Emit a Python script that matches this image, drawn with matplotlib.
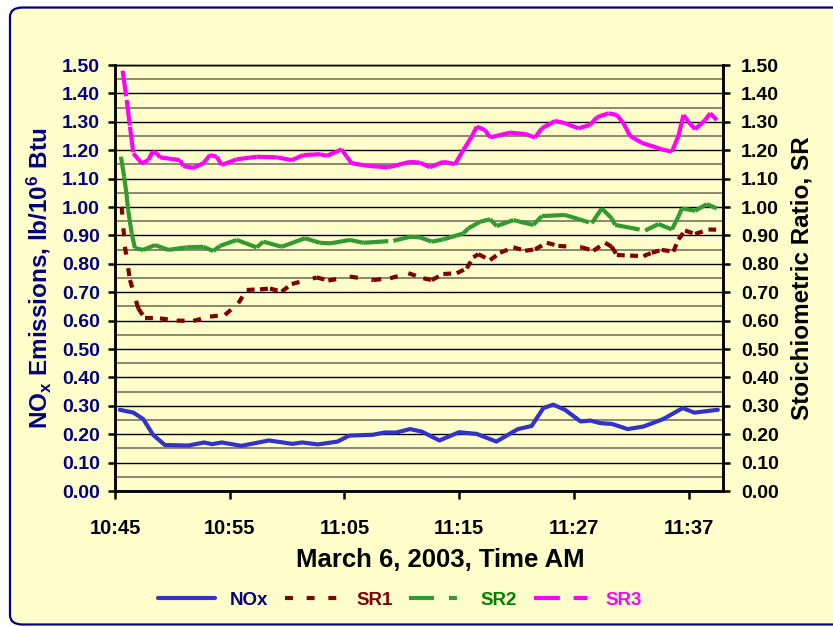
import numpy as np
import matplotlib
matplotlib.use("Agg")
import matplotlib.pyplot as plt
from matplotlib.collections import LineCollection
from matplotlib.lines import Line2D
from matplotlib.patches import FancyBboxPatch

# sample position along the (category) time axis, ticks every 10 samples
tick_pos = [0, 10, 20, 30, 40, 50]
tick_labels = ["10:45", "10:55", "11:05", "11:15", "11:27", "11:37"]

nox_t = [0.42, 1.61, 2.47, 3.32, 4.35, 6.40, 7.77, 8.46, 9.31, 11.02, 13.41, 15.47, 16.32, 17.68,
         19.40, 20.42, 22.47, 23.50, 24.52, 25.72, 26.75, 28.28, 29.99, 31.53, 33.24, 35.12, 36.32,
         37.34, 38.20, 39.22, 40.59, 41.45, 42.30, 43.33, 44.69, 46.06, 47.77, 49.48, 50.50, 52.55]
nox = [0.286, 0.276, 0.253, 0.198, 0.162, 0.160, 0.171, 0.165, 0.171, 0.159, 0.178, 0.166, 0.171, 0.164,
       0.174, 0.195, 0.198, 0.206, 0.206, 0.218, 0.209, 0.178, 0.207, 0.201, 0.174, 0.218, 0.229,
       0.292, 0.304, 0.286, 0.245, 0.248, 0.239, 0.236, 0.218, 0.227, 0.253, 0.292, 0.276, 0.286]

sr1_t = [0.58, 0.87, 1.31, 2.03, 2.62, 3.92, 5.38, 6.83, 8.28, 9.59, 10.75, 11.48, 12.64, 13.51,
         14.53, 15.41, 17.59, 18.60, 20.49, 22.52, 23.98, 25.57, 26.88, 27.61, 28.62, 29.79, 30.66,
         31.24, 31.67, 32.69, 33.57, 34.73, 35.75, 36.62, 37.64, 38.65, 40.69, 41.70, 42.72, 43.30,
         43.74, 44.90, 46.06, 46.79, 47.66, 48.67, 49.11, 49.69, 50.57, 51.73, 52.40]
sr1 = [1.001, 0.860, 0.743, 0.643, 0.608, 0.608, 0.600, 0.599, 0.614, 0.620, 0.661, 0.708, 0.710, 0.713,
       0.702, 0.729, 0.752, 0.741, 0.755, 0.743, 0.749, 0.767, 0.749, 0.743, 0.764, 0.767, 0.784,
       0.823, 0.834, 0.813, 0.839, 0.858, 0.846, 0.851, 0.874, 0.863, 0.858, 0.846, 0.874, 0.860,
       0.831, 0.829, 0.827, 0.839, 0.849, 0.843, 0.886, 0.917, 0.905, 0.921, 0.920]

sr2_t = [0.52, 0.80, 1.00, 1.15, 1.46, 1.74, 2.47, 3.49, 4.65, 6.25, 7.70, 8.57, 9.15, 10.61, 12.35,
         12.93, 14.53, 16.56, 17.87, 18.75, 20.49, 21.65, 24.26, 25.72, 26.59, 27.61, 28.62, 30.37,
         30.80, 31.82, 32.69, 33.28, 34.73, 35.31, 36.47, 37.20, 39.23, 41.56, 42.43, 43.30, 43.59,
         46.21, 47.37, 48.54, 49.11, 49.41, 50.57, 51.59, 52.46]
sr2 = [1.177, 1.107, 1.048, 0.989, 0.907, 0.855, 0.849, 0.866, 0.849, 0.858, 0.860, 0.845, 0.863, 0.884,
       0.858, 0.878, 0.860, 0.890, 0.874, 0.872, 0.884, 0.874, 0.881, 0.895, 0.893, 0.878, 0.886,
       0.907, 0.925, 0.948, 0.957, 0.933, 0.954, 0.948, 0.937, 0.968, 0.972, 0.943, 0.995, 0.960,
       0.937, 0.917, 0.940, 0.921, 0.966, 0.995, 0.987, 1.010, 0.995]

sr3_t = [0.67, 1.02, 1.31, 1.60, 2.33, 2.90, 3.29, 3.64, 3.92, 5.67, 5.95, 6.83, 7.70, 8.28, 8.87,
         9.30, 10.61, 12.35, 14.10, 15.41, 16.42, 17.87, 18.46, 19.76, 20.20, 20.64, 22.23, 23.83,
         25.72, 26.59, 27.46, 28.62, 29.64, 30.37, 31.10, 31.53, 32.26, 32.69, 34.44, 35.75, 36.62,
         37.20, 38.36, 39.23, 40.39, 41.41, 42.00, 43.01, 43.74, 44.32, 44.90, 45.92, 47.66, 48.54,
         49.11, 49.55, 49.98, 50.57, 51.44, 51.88, 52.46]
sr3 = [1.48, 1.377, 1.283, 1.189, 1.154, 1.165, 1.195, 1.189, 1.175, 1.165, 1.144, 1.138, 1.154, 1.183,
       1.177, 1.148, 1.168, 1.177, 1.175, 1.165, 1.183, 1.186, 1.180, 1.203, 1.177, 1.154, 1.144,
       1.140, 1.159, 1.156, 1.140, 1.159, 1.151, 1.201, 1.248, 1.283, 1.271, 1.245, 1.262, 1.257,
       1.245, 1.277, 1.303, 1.295, 1.277, 1.289, 1.316, 1.330, 1.324, 1.295, 1.250, 1.226, 1.203,
       1.195, 1.250, 1.324, 1.300, 1.274, 1.306, 1.330, 1.306]

BG = "#FFFFCC"
NAVY = "#000080"
plt.rcParams["font.family"] = ["Liberation Sans", "DejaVu Sans"]
plt.rcParams["font.weight"] = "bold"
plt.rcParams["mathtext.fontset"] = "custom"
plt.rcParams["mathtext.rm"] = "Liberation Sans:bold"
plt.rcParams["mathtext.it"] = "Liberation Sans:bold"
plt.rcParams["mathtext.bf"] = "Liberation Sans:bold"

fig = plt.figure(figsize=(8.33, 6.27), dpi=100, facecolor="white")
fig.patches.append(FancyBboxPatch((0.012, 0.004), 1.05, 0.984, transform=fig.transFigure,
                                  boxstyle="round,pad=0,rounding_size=0.015", fc=BG, ec=NAVY,
                                  lw=1.6, zorder=-10))

ax = fig.add_axes([0.138, 0.2169, 0.730, 0.6794])
ax.set_facecolor("none")
ax2 = ax.twinx()

ax.set_xlim(0, 53.0)
for a in (ax, ax2):
    a.set_ylim(0, 1.5)
    a.set_yticks(np.arange(0, 1.51, 0.1))
    a.set_yticks(np.arange(0.05, 1.5, 0.1), minor=True)
    a.set_yticklabels([f"{v:.2f}" for v in np.arange(0, 1.51, 0.1)], fontweight="bold")
    for sp in a.spines.values():
        sp.set_linewidth(1.8)
    a.spines["top"].set_linewidth(1.0)
ax.grid(True, which="major", axis="y", color="black", lw=1.0)
ax.grid(True, which="minor", axis="y", color="#80806a", lw=1.3)
ax.tick_params(axis="y", which="minor", length=0)
ax2.tick_params(axis="y", which="minor", length=0)
ax.tick_params(axis="y", which="major", direction="out", length=5, width=1.8, pad=6,
               labelsize=14, labelcolor=NAVY)
ax2.tick_params(axis="y", which="major", direction="out", length=5, width=1.8, pad=8,
                labelsize=14, labelcolor="black")
ax.set_xticks(tick_pos)
ax.set_xticklabels(tick_labels, fontweight="bold")
ax.tick_params(axis="x", direction="out", length=6, width=1.8, pad=14, labelsize=14.5)

LW = 3.0

ax.plot(nox_t, nox, color="#3333CC", lw=LW, solid_capstyle="round", solid_joinstyle="round",
        zorder=5)


def excel_dash(a, t, y, color, dashes):
    # Excel restarts the dash pattern on every segment
    pts = np.column_stack([t, y])
    segs = np.stack([pts[:-1], pts[1:]], axis=1)
    lc = LineCollection(segs, colors=color, linewidths=LW, linestyles=[(0, dashes)],
                        capstyle="butt", zorder=5)
    a.add_collection(lc)


SR1_DASH = (1.9, 3.3)
SR2_DASH = (6.0, 3.6, 1.9, 3.6)
SR3_DASH = (6.2, 3.3, 3.3, 3.3)
excel_dash(ax2, sr1_t, sr1, "#800000", SR1_DASH)
excel_dash(ax2, sr2_t, sr2, "#339933", SR2_DASH)
excel_dash(ax2, sr3_t, sr3, "#FF00FF", SR3_DASH)

ax.set_ylabel(r"NO$_\mathrm{x}$ Emissions, lb/10$^\mathrm{6}$ Btu", fontsize=17.5,
              fontweight="bold", color=NAVY, labelpad=6)
ax2.set_ylabel("Stoichiometric Ratio, SR", fontsize=17.5, fontweight="bold", color="black",
               labelpad=8)
fig.text(440 / 833, 1 - 560 / 627, "March 6, 2003, Time AM", ha="center", va="center",
         fontsize=18.5, fontweight="bold", color="black")

handles = [
    Line2D([], [], color="#3333CC", lw=LW, solid_capstyle="round"),
    Line2D([], [], color="#800000", lw=LW, ls=(0, SR1_DASH)),
    Line2D([], [], color="#339933", lw=LW, ls=(0, SR2_DASH)),
    Line2D([], [], color="#FF00FF", lw=LW, ls=(0, SR3_DASH)),
]
leg = fig.legend(handles, ["NOx", "SR1", "SR2", "SR3"], loc="center", ncol=4,
                 bbox_to_anchor=(400 / 833, 1 - 600 / 627), frameon=False,
                 prop={"size": 13.5, "weight": "bold"},
                 handlelength=3.0, handletextpad=0.8, columnspacing=0.9)
for txt, c in zip(leg.get_texts(), [NAVY, "#800000", "#008000", "#FF00FF"]):
    txt.set_color(c)

fig.savefig("out.png", dpi=100, facecolor="white")
